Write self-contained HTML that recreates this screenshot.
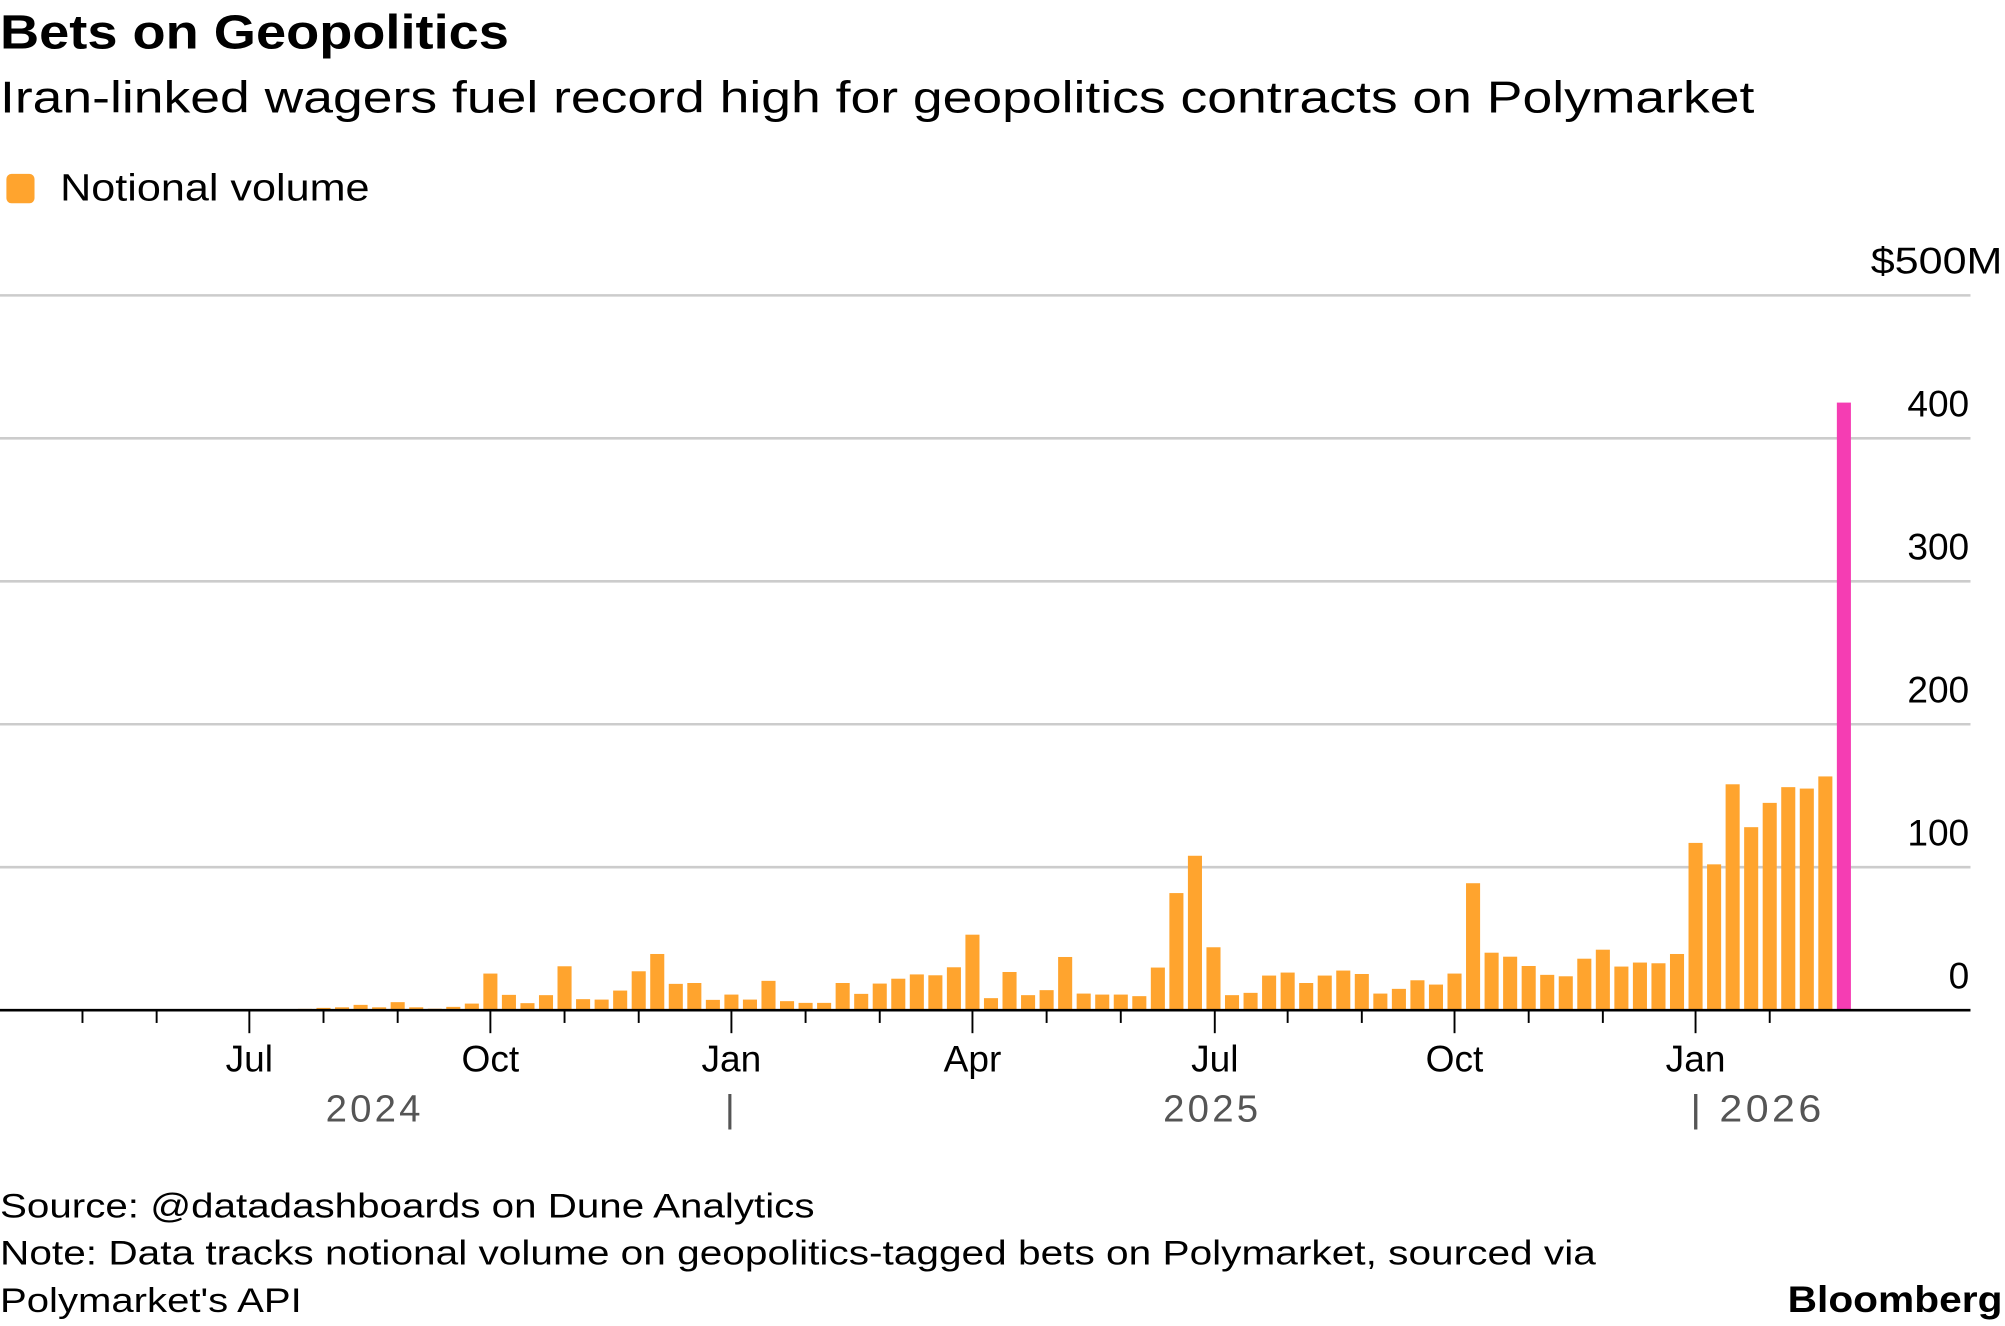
<!DOCTYPE html>
<html><head><meta charset="utf-8"><style>
html,body{margin:0;padding:0;background:#fff;}
svg{display:block;font-family:"Liberation Sans",sans-serif;}
</style></head><body>
<svg id="chart" width="2005" height="1326" viewBox="0 0 1568 1037" preserveAspectRatio="none" xmlns="http://www.w3.org/2000/svg">
<text x="0" y="38" font-size="38" font-weight="bold" textLength="398" lengthAdjust="spacingAndGlyphs">Bets on Geopolitics</text>
<text x="0" y="88" font-size="35" textLength="1372" lengthAdjust="spacingAndGlyphs">Iran-linked wagers fuel record high for geopolitics contracts on Polymarket</text>
<rect x="5" y="136" width="22" height="23" rx="4" fill="#FFA42E"/>
<text x="47" y="157" font-size="30" textLength="242" lengthAdjust="spacingAndGlyphs">Notional volume</text>
<g id="grid"></g><g id="bars"></g><g id="axis"></g>
<text x="0" y="952" font-size="27" textLength="637" lengthAdjust="spacingAndGlyphs">Source: @datadashboards on Dune Analytics</text>
<text x="0" y="989" font-size="27" textLength="1248" lengthAdjust="spacingAndGlyphs">Note: Data tracks notional volume on geopolitics-tagged bets on Polymarket, sourced via</text>
<text x="0" y="1026" font-size="27" textLength="236" lengthAdjust="spacingAndGlyphs">Polymarket's API</text>
<text x="1566" y="1026" font-size="29" font-weight="bold" text-anchor="end" textLength="168" lengthAdjust="spacingAndGlyphs">Bloomberg</text>
</svg>
<script>
const values = [0.3,0.3,0.3,0.3,0.3,0.3,0.4,0.4,0.4,0.5,0.5,0.5,0.6,0.6,0.7,0.8,0.9,
1.6,2,3.7,2,5.6,2,1,2.3,4.6,25.6,10.7,4.9,10.5,30.7,7.7,7.4,13.7,27.2,39.3,18.4,19,7.2,10.9,7.4,20.5,6.3,5.1,5.1,19,11.4,18.6,22,25,24.4,30,52.8,8.4,
26.7,10.5,14,37.2,11.6,10.9,10.9,9.8,29.8,81.9,108,44,10.5,12.1,24.2,26.3,19,24.2,27.7,25.3,11.6,14.9,20.9,17.9,25.6,88.8,40.2,37.4,30.9,24.7,23.7,36,42.3,30.5,33.3,32.8,39.3,117,102,158,128,145,156,155,163.5,425];
const highlightIndex = 99;
const yTicks = [0,100,200,300,400,500];
const yTickLabels = ["0","100","200","300","400","$500M"];
const minorTickWeeks = [4,8,17,21,30,34,43,47,56,60,69,73,82,86,95];
const quarterTickWeeks = [13,26,39,52,65.07,78,91];
const quarterLabels = ["Jul","Oct","Jan","Apr","Jul","Oct","Jan"];

const NS="http://www.w3.org/2000/svg";
const base=790, pxPerUnit=1.118;
function y(v){return base - v*pxPerUnit;}
function xBar(i){return 6.5 + i*14.5;}
function mk(tag,attrs,parent){const e=document.createElementNS(NS,tag);for(const k in attrs)e.setAttribute(k,attrs[k]);parent.appendChild(e);return e;}
const grid=document.getElementById('grid'), bars=document.getElementById('bars'), axis=document.getElementById('axis');
yTicks.forEach((t,k)=>{
  if(t>0){const l=mk('line',{x1:0,x2:1541,y1:y(t),y2:y(t),stroke:'#cccccc','stroke-width':2},grid);
  
  }
  const isTop=k===yTicks.length-1;
  const attrs={x:isTop?1463:1540,y:y(t)-17,'font-size':29,'text-anchor':isTop?'start':'end'};
  if(isTop){attrs.textLength=103;attrs.lengthAdjust='spacingAndGlyphs';}
  const tx=mk('text',attrs,grid);
  tx.textContent=yTickLabels[k];
  
  
});
values.forEach((v,i)=>{
  const r=mk('rect',{x:xBar(i)-5.5,y:y(v),width:11,height:Math.max(0,v*pxPerUnit),fill:i===highlightIndex?'#F53DB3':'#FFA42E'},bars);
  
  
});
const bl=mk('line',{x1:0,x2:1541,y1:base,y2:base,stroke:'#000','stroke-width':2},axis);


minorTickWeeks.forEach(w=>{
  const t=mk('line',{x1:xBar(w),x2:xBar(w),y1:base,y2:base+10,stroke:'#000','stroke-width':1.5},axis);
  
  
});
quarterTickWeeks.forEach((w,k)=>{
  const t=mk('line',{x1:xBar(w),x2:xBar(w),y1:base,y2:base+18,stroke:'#000','stroke-width':1.5},axis);
  
  
  const tx=mk('text',{x:xBar(w),y:838,'font-size':29,'text-anchor':'middle'},axis);
  tx.textContent=quarterLabels[k];
  
  
});
[["2024",293,'middle'],["|",572,'middle'],["2025",948,'middle'],["| 2026",1322,'start']].forEach(a=>{
  const attrs={x:a[1],y:877,'font-size':30,'fill':'#555','text-anchor':a[2],'letter-spacing':2.5};
  if(a[0]==="| 2026"){attrs.textLength=105;attrs.lengthAdjust='spacingAndGlyphs';}
  const t=mk('text',attrs,axis);
  t.textContent=a[0];
  
  
});
</script>
</body></html>
